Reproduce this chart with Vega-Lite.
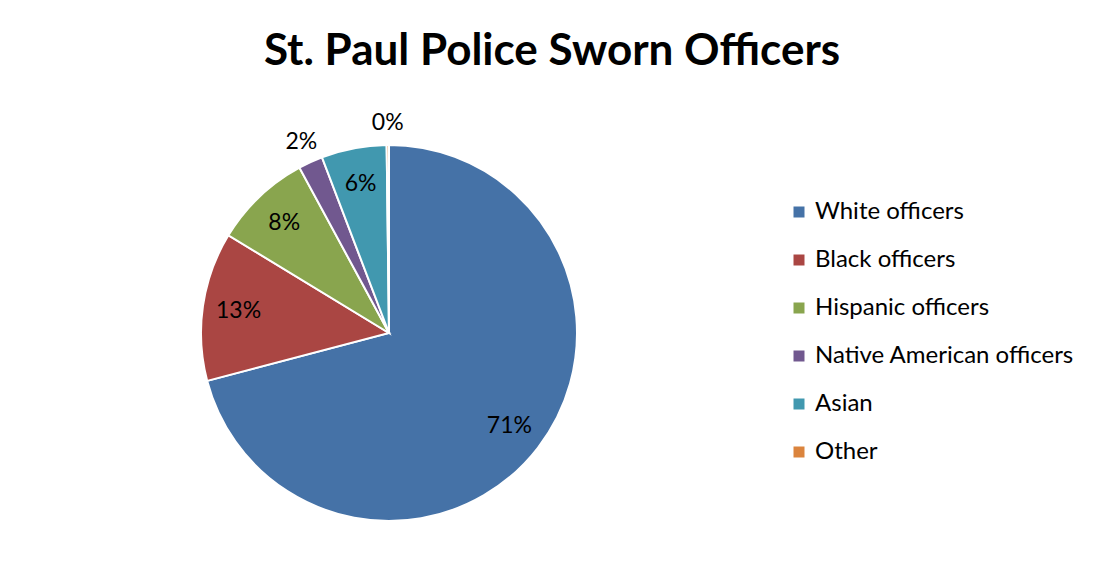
{
  "$schema": "https://vega.github.io/schema/vega-lite/v6.json",
  "width": 376,
  "height": 376,
  "autosize": {"type": "none"},
  "padding": {"left": 201, "top": 145, "right": 528, "bottom": 60},
  "background": "white",
  "config": {"view": {"stroke": null}},
  "title": {
    "text": "St. Paul Police Sworn Officers",
    "font": "Lato",
    "fontSize": 44,
    "fontWeight": "bold",
    "color": "black",
    "anchor": "middle",
    "frame": "group",
    "dx": 163,
    "offset": 3,
    "baseline": "alphabetic"
  },
  "data": {
    "values": [
      {"idx": 1, "group": "White officers", "share": 0.709},
      {"idx": 2, "group": "Black officers", "share": 0.128},
      {"idx": 3, "group": "Hispanic officers", "share": 0.084},
      {"idx": 4, "group": "Native American officers", "share": 0.021},
      {"idx": 5, "group": "Asian", "share": 0.056},
      {"idx": 6, "group": "Other", "share": 0.002}
    ]
  },
  "encoding": {
    "theta": {"field": "share", "type": "quantitative", "stack": true},
    "order": {"field": "idx", "type": "quantitative"}
  },
  "layer": [
    {
      "mark": {"type": "arc", "stroke": "white", "strokeWidth": 2},
      "encoding": {
        "color": {
          "field": "group",
          "type": "nominal",
          "sort": ["White officers", "Black officers", "Hispanic officers", "Native American officers", "Asian", "Other"],
          "scale": {
            "domain": ["White officers", "Black officers", "Hispanic officers", "Native American officers", "Asian", "Other"],
            "range": ["#4572A7", "#AA4643", "#89A54E", "#71588F", "#4198AF", "#DB843D"]
          },
          "legend": {
            "title": null,
            "orient": "none",
            "legendX": 586,
            "legendY": 55,
            "symbolType": "square",
            "symbolSize": 121,
            "symbolStrokeWidth": 0,
            "labelFont": "Lato",
            "labelFontSize": 24,
            "labelColor": "black",
            "labelOffset": 4,
            "rowPadding": 24,
            "padding": 0,
            "labelLimit": 400
          }
        }
      }
    },
    {
      "mark": {"type": "text", "radius": 152, "font": "Lato", "fontSize": 23, "fill": "black"},
      "encoding": {
        "detail": {"field": "group", "type": "nominal"},
        "text": {"field": "share", "type": "quantitative", "format": ".0%"},
        "opacity": {"condition": {"test": "datum.share < 0.04", "value": 0}, "value": 1}
      }
    },
    {
      "mark": {"type": "text", "radius": 210, "font": "Lato", "fontSize": 23, "fill": "black"},
      "encoding": {
        "detail": {"field": "group", "type": "nominal"},
        "text": {"field": "share", "type": "quantitative", "format": ".0%"},
        "opacity": {"condition": {"test": "datum.share < 0.04", "value": 1}, "value": 0}
      }
    }
  ]
}
